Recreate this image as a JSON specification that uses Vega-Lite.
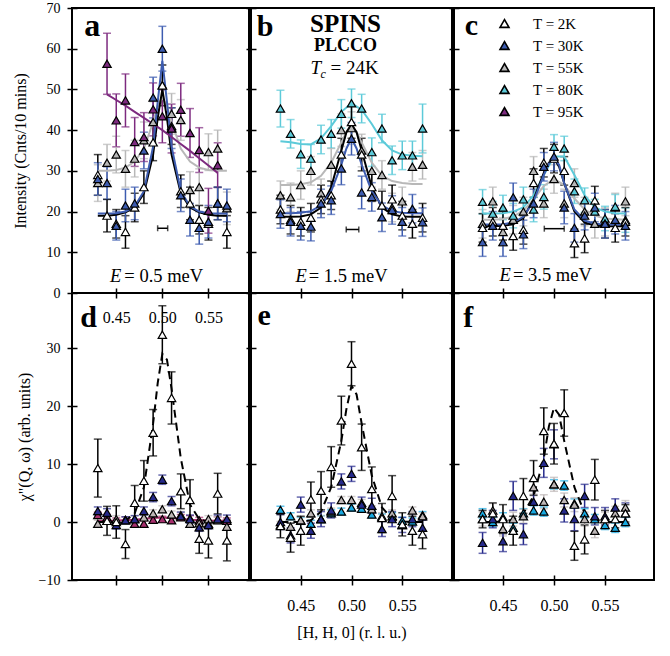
{
"$schema": "https://vega.github.io/schema/vega-lite/v6.json",
"background": "white",
"padding": {"left": 11, "top": 0, "right": 5, "bottom": 5},
"config": {
  "view": {"stroke": "#000", "strokeWidth": 2},
  "axis": {"domain": false, "grid": false, "tickColor": "#000", "tickWidth": 1.5, "labelColor": "#000", "labelFont": "Liberation Serif", "labelFontSize": 14, "titleFont": "Liberation Serif", "titleFontSize": 16, "titleFontWeight": "normal", "titleColor": "#000", "labelFlush": false, "labelOverlap": false},
  "text": {"font": "Liberation Serif", "color": "#000"}
},
"datasets": {
"res": [
{"p":"a","lo":0.4949,"hi":0.5058,"y":15.9},
{"p":"b","lo":0.4948,"hi":0.5072,"y":15.6},
{"p":"c","lo":0.4905,"hi":0.51,"y":15.8}
],
"pts": [
{"p":"a","T":"55K","x":0.43,"y":27,"e":4.5},{"p":"a","T":"55K","x":0.44,"y":32,"e":4.5},{"p":"a","T":"55K","x":0.45,"y":34,"e":4.5},{"p":"a","T":"55K","x":0.46,"y":30.5,"e":4.5},{"p":"a","T":"55K","x":0.47,"y":33,"e":4.5},{"p":"a","T":"55K","x":0.48,"y":37.5,"e":4.5},{"p":"a","T":"55K","x":0.49,"y":42,"e":5},{"p":"a","T":"55K","x":0.5,"y":51,"e":5},{"p":"a","T":"55K","x":0.51,"y":44,"e":5},{"p":"a","T":"55K","x":0.52,"y":42.5,"e":5},{"p":"a","T":"55K","x":0.53,"y":25.3,"e":4.5},{"p":"a","T":"55K","x":0.54,"y":26,"e":4.5},{"p":"a","T":"55K","x":0.55,"y":34.6,"e":4.5},{"p":"a","T":"55K","x":0.56,"y":35.5,"e":4.5},{"p":"a","T":"55K","x":0.57,"y":20.8,"e":4},
{"p":"a","T":"2K","x":0.43,"y":29,"e":5},{"p":"a","T":"2K","x":0.44,"y":19,"e":4},{"p":"a","T":"2K","x":0.45,"y":17,"e":3.5},{"p":"a","T":"2K","x":0.46,"y":15,"e":4},{"p":"a","T":"2K","x":0.47,"y":21,"e":3.5},{"p":"a","T":"2K","x":0.48,"y":26,"e":4},{"p":"a","T":"2K","x":0.49,"y":37,"e":4.5},{"p":"a","T":"2K","x":0.5,"y":51,"e":5},{"p":"a","T":"2K","x":0.51,"y":41,"e":4.5},{"p":"a","T":"2K","x":0.52,"y":25,"e":4},{"p":"a","T":"2K","x":0.53,"y":22,"e":4},{"p":"a","T":"2K","x":0.54,"y":18,"e":3.5},{"p":"a","T":"2K","x":0.55,"y":17,"e":4},{"p":"a","T":"2K","x":0.56,"y":22,"e":4},{"p":"a","T":"2K","x":0.57,"y":15,"e":4},
{"p":"a","T":"30K","x":0.43,"y":28,"e":4},{"p":"a","T":"30K","x":0.44,"y":27,"e":4},{"p":"a","T":"30K","x":0.45,"y":16.5,"e":3.5},{"p":"a","T":"30K","x":0.46,"y":21.5,"e":4},{"p":"a","T":"30K","x":0.47,"y":22,"e":4},{"p":"a","T":"30K","x":0.48,"y":35,"e":4.5},{"p":"a","T":"30K","x":0.49,"y":48,"e":5},{"p":"a","T":"30K","x":0.5,"y":60,"e":5.5},{"p":"a","T":"30K","x":0.51,"y":40.5,"e":5},{"p":"a","T":"30K","x":0.52,"y":24,"e":4},{"p":"a","T":"30K","x":0.53,"y":18,"e":4},{"p":"a","T":"30K","x":0.54,"y":16,"e":4},{"p":"a","T":"30K","x":0.55,"y":17.5,"e":4},{"p":"a","T":"30K","x":0.56,"y":22,"e":4},{"p":"a","T":"30K","x":0.57,"y":21.5,"e":4},
{"p":"a","T":"95K","x":0.44,"y":56.3,"e":7.5},{"p":"a","T":"95K","x":0.45,"y":42.4,"e":6.5},{"p":"a","T":"95K","x":0.46,"y":47.3,"e":6.5},{"p":"a","T":"95K","x":0.47,"y":37.1,"e":6},{"p":"a","T":"95K","x":0.48,"y":38.3,"e":6},{"p":"a","T":"95K","x":0.49,"y":45.1,"e":6.5},{"p":"a","T":"95K","x":0.5,"y":43.4,"e":6.5},{"p":"a","T":"95K","x":0.51,"y":40.4,"e":6},{"p":"a","T":"95K","x":0.52,"y":45,"e":6.5},{"p":"a","T":"95K","x":0.53,"y":39.3,"e":6},{"p":"a","T":"95K","x":0.54,"y":35.1,"e":5.5},{"p":"a","T":"95K","x":0.55,"y":20.2,"e":5.5},{"p":"a","T":"95K","x":0.56,"y":31.4,"e":5.5},
{"p":"b","T":"55K","x":0.43,"y":24,"e":3.5},{"p":"b","T":"55K","x":0.44,"y":23.5,"e":3.5},{"p":"b","T":"55K","x":0.45,"y":26.5,"e":3.5},{"p":"b","T":"55K","x":0.46,"y":30,"e":3.5},{"p":"b","T":"55K","x":0.47,"y":24.5,"e":3.5},{"p":"b","T":"55K","x":0.48,"y":31.5,"e":4},{"p":"b","T":"55K","x":0.49,"y":40,"e":4},{"p":"b","T":"55K","x":0.5,"y":40.5,"e":4},{"p":"b","T":"55K","x":0.51,"y":35,"e":4},{"p":"b","T":"55K","x":0.52,"y":30,"e":4},{"p":"b","T":"55K","x":0.53,"y":29,"e":3.5},{"p":"b","T":"55K","x":0.54,"y":21,"e":3.5},{"p":"b","T":"55K","x":0.55,"y":22.5,"e":3.5},{"p":"b","T":"55K","x":0.56,"y":31,"e":3.5},{"p":"b","T":"55K","x":0.57,"y":31.5,"e":3.5},
{"p":"b","T":"80K","x":0.43,"y":45.3,"e":4.5},{"p":"b","T":"80K","x":0.44,"y":39.1,"e":3.5},{"p":"b","T":"80K","x":0.45,"y":34.1,"e":3.5},{"p":"b","T":"80K","x":0.46,"y":33,"e":3.5},{"p":"b","T":"80K","x":0.47,"y":37.7,"e":3.5},{"p":"b","T":"80K","x":0.48,"y":39.1,"e":3.5},{"p":"b","T":"80K","x":0.49,"y":44,"e":3.5},{"p":"b","T":"80K","x":0.5,"y":46.6,"e":3.5},{"p":"b","T":"80K","x":0.51,"y":45.3,"e":3.5},{"p":"b","T":"80K","x":0.52,"y":34.6,"e":3.5},{"p":"b","T":"80K","x":0.53,"y":40.4,"e":3.5},{"p":"b","T":"80K","x":0.54,"y":32.6,"e":3.5},{"p":"b","T":"80K","x":0.55,"y":33.8,"e":3.5},{"p":"b","T":"80K","x":0.56,"y":33.8,"e":3.5},{"p":"b","T":"80K","x":0.57,"y":40.4,"e":6},
{"p":"b","T":"2K","x":0.43,"y":20.5,"e":3.5},{"p":"b","T":"2K","x":0.44,"y":18,"e":3.5},{"p":"b","T":"2K","x":0.45,"y":17.5,"e":3.5},{"p":"b","T":"2K","x":0.46,"y":18.5,"e":3.5},{"p":"b","T":"2K","x":0.47,"y":23,"e":3.5},{"p":"b","T":"2K","x":0.48,"y":24,"e":3.5},{"p":"b","T":"2K","x":0.49,"y":34,"e":4},{"p":"b","T":"2K","x":0.5,"y":42,"e":4},{"p":"b","T":"2K","x":0.51,"y":34,"e":4},{"p":"b","T":"2K","x":0.52,"y":26,"e":3.5},{"p":"b","T":"2K","x":0.53,"y":21.5,"e":3.5},{"p":"b","T":"2K","x":0.54,"y":23,"e":3.5},{"p":"b","T":"2K","x":0.55,"y":19,"e":3.5},{"p":"b","T":"2K","x":0.56,"y":17,"e":3.5},{"p":"b","T":"2K","x":0.57,"y":18.5,"e":3.5},
{"p":"b","T":"30K","x":0.43,"y":19.4,"e":3.5},{"p":"b","T":"30K","x":0.44,"y":17.5,"e":3.5},{"p":"b","T":"30K","x":0.45,"y":16.5,"e":3.5},{"p":"b","T":"30K","x":0.46,"y":16.3,"e":3.5},{"p":"b","T":"30K","x":0.47,"y":22,"e":3.5},{"p":"b","T":"30K","x":0.48,"y":22.8,"e":3.5},{"p":"b","T":"30K","x":0.49,"y":30.6,"e":4},{"p":"b","T":"30K","x":0.5,"y":37.9,"e":4},{"p":"b","T":"30K","x":0.51,"y":24.7,"e":4},{"p":"b","T":"30K","x":0.52,"y":23.6,"e":3.5},{"p":"b","T":"30K","x":0.53,"y":18.6,"e":3.5},{"p":"b","T":"30K","x":0.54,"y":20.4,"e":3.5},{"p":"b","T":"30K","x":0.55,"y":17.5,"e":3.5},{"p":"b","T":"30K","x":0.56,"y":20.7,"e":3.5},{"p":"b","T":"30K","x":0.57,"y":17.4,"e":3.5},
{"p":"c","T":"55K","x":0.43,"y":17,"e":3.5},{"p":"c","T":"55K","x":0.44,"y":22.5,"e":3.5},{"p":"c","T":"55K","x":0.45,"y":15,"e":3.5},{"p":"c","T":"55K","x":0.46,"y":18,"e":3.5},{"p":"c","T":"55K","x":0.47,"y":20,"e":3.5},{"p":"c","T":"55K","x":0.48,"y":30,"e":3.5},{"p":"c","T":"55K","x":0.49,"y":22,"e":3.5},{"p":"c","T":"55K","x":0.5,"y":28,"e":3.5},{"p":"c","T":"55K","x":0.51,"y":22,"e":3.5},{"p":"c","T":"55K","x":0.52,"y":27,"e":3.5},{"p":"c","T":"55K","x":0.53,"y":20,"e":3.5},{"p":"c","T":"55K","x":0.54,"y":17,"e":3.5},{"p":"c","T":"55K","x":0.55,"y":17.5,"e":3.5},{"p":"c","T":"55K","x":0.56,"y":21,"e":3.5},{"p":"c","T":"55K","x":0.57,"y":22.5,"e":3.5},
{"p":"c","T":"80K","x":0.43,"y":22.4,"e":3},{"p":"c","T":"80K","x":0.44,"y":19.5,"e":3},{"p":"c","T":"80K","x":0.45,"y":21,"e":3},{"p":"c","T":"80K","x":0.46,"y":19,"e":3},{"p":"c","T":"80K","x":0.47,"y":23,"e":3},{"p":"c","T":"80K","x":0.48,"y":20.5,"e":3},{"p":"c","T":"80K","x":0.49,"y":23.6,"e":3},{"p":"c","T":"80K","x":0.5,"y":35.9,"e":3},{"p":"c","T":"80K","x":0.51,"y":35.5,"e":3},{"p":"c","T":"80K","x":0.52,"y":25,"e":3},{"p":"c","T":"80K","x":0.53,"y":22.8,"e":3},{"p":"c","T":"80K","x":0.54,"y":20,"e":3},{"p":"c","T":"80K","x":0.55,"y":18.3,"e":3},{"p":"c","T":"80K","x":0.56,"y":21.2,"e":3},{"p":"c","T":"80K","x":0.57,"y":17.9,"e":3},
{"p":"c","T":"2K","x":0.43,"y":16,"e":3.5},{"p":"c","T":"2K","x":0.44,"y":17.5,"e":3.5},{"p":"c","T":"2K","x":0.45,"y":16.5,"e":3.5},{"p":"c","T":"2K","x":0.46,"y":14,"e":3.5},{"p":"c","T":"2K","x":0.47,"y":15.5,"e":3.5},{"p":"c","T":"2K","x":0.48,"y":27,"e":3.5},{"p":"c","T":"2K","x":0.49,"y":32,"e":3.5},{"p":"c","T":"2K","x":0.5,"y":33,"e":3.5},{"p":"c","T":"2K","x":0.51,"y":30,"e":3.5},{"p":"c","T":"2K","x":0.52,"y":12.2,"e":3.5},{"p":"c","T":"2K","x":0.53,"y":13.4,"e":3.5},{"p":"c","T":"2K","x":0.54,"y":22.7,"e":3.5},{"p":"c","T":"2K","x":0.55,"y":17,"e":3.5},{"p":"c","T":"2K","x":0.56,"y":16,"e":3.5},{"p":"c","T":"2K","x":0.57,"y":17.5,"e":3.5},
{"p":"c","T":"30K","x":0.43,"y":12.5,"e":3.5},{"p":"c","T":"30K","x":0.44,"y":16.5,"e":3.5},{"p":"c","T":"30K","x":0.45,"y":12.5,"e":3.5},{"p":"c","T":"30K","x":0.46,"y":23.5,"e":3.5},{"p":"c","T":"30K","x":0.47,"y":14.4,"e":3.5},{"p":"c","T":"30K","x":0.48,"y":22,"e":3.5},{"p":"c","T":"30K","x":0.49,"y":31,"e":3.5},{"p":"c","T":"30K","x":0.5,"y":33.5,"e":3.5},{"p":"c","T":"30K","x":0.51,"y":21,"e":4},{"p":"c","T":"30K","x":0.52,"y":16,"e":3.5},{"p":"c","T":"30K","x":0.53,"y":19,"e":3.5},{"p":"c","T":"30K","x":0.54,"y":21,"e":3.5},{"p":"c","T":"30K","x":0.55,"y":17,"e":3.5},{"p":"c","T":"30K","x":0.56,"y":18,"e":3.5},{"p":"c","T":"30K","x":0.57,"y":16.5,"e":3.5},
{"p":"d","T":"95K","x":0.43,"y":1.2,"e":0.5},{"p":"d","T":"95K","x":0.44,"y":0.8,"e":0.5},{"p":"d","T":"95K","x":0.45,"y":0.2,"e":0.5},{"p":"d","T":"95K","x":0.46,"y":0.4,"e":0.5},{"p":"d","T":"95K","x":0.47,"y":-0.3,"e":0.5},{"p":"d","T":"95K","x":0.48,"y":-0.3,"e":0.5},{"p":"d","T":"95K","x":0.49,"y":0.4,"e":0.5},{"p":"d","T":"95K","x":0.5,"y":0.5,"e":0.5},{"p":"d","T":"95K","x":0.51,"y":0.3,"e":0.5},{"p":"d","T":"95K","x":0.52,"y":0.8,"e":0.5},{"p":"d","T":"95K","x":0.53,"y":0.6,"e":0.5},{"p":"d","T":"95K","x":0.54,"y":0.3,"e":0.5},{"p":"d","T":"95K","x":0.55,"y":-0.3,"e":0.5},{"p":"d","T":"95K","x":0.56,"y":0.4,"e":0.5},{"p":"d","T":"95K","x":0.57,"y":0.2,"e":0.5},
{"p":"d","T":"55K","x":0.43,"y":-0.3,"e":0.6},{"p":"d","T":"55K","x":0.44,"y":0.2,"e":0.6},{"p":"d","T":"55K","x":0.45,"y":0.5,"e":0.6},{"p":"d","T":"55K","x":0.46,"y":0.3,"e":0.6},{"p":"d","T":"55K","x":0.47,"y":0.5,"e":0.6},{"p":"d","T":"55K","x":0.48,"y":0.8,"e":0.6},{"p":"d","T":"55K","x":0.49,"y":1.5,"e":0.6},{"p":"d","T":"55K","x":0.5,"y":2.2,"e":0.6},{"p":"d","T":"55K","x":0.51,"y":1.3,"e":0.6},{"p":"d","T":"55K","x":0.52,"y":1.2,"e":0.6},{"p":"d","T":"55K","x":0.53,"y":-0.3,"e":0.6},{"p":"d","T":"55K","x":0.54,"y":-0.2,"e":0.6},{"p":"d","T":"55K","x":0.55,"y":0.5,"e":0.6},{"p":"d","T":"55K","x":0.56,"y":0.3,"e":0.6},{"p":"d","T":"55K","x":0.57,"y":-0.8,"e":0.6},
{"p":"d","T":"30K","x":0.43,"y":1.9,"e":0.7},{"p":"d","T":"30K","x":0.44,"y":1.6,"e":0.7},{"p":"d","T":"30K","x":0.45,"y":-0.5,"e":0.7},{"p":"d","T":"30K","x":0.46,"y":0.3,"e":0.6},{"p":"d","T":"30K","x":0.47,"y":0.5,"e":0.6},{"p":"d","T":"30K","x":0.48,"y":1.9,"e":0.7},{"p":"d","T":"30K","x":0.49,"y":4.3,"e":0.8},{"p":"d","T":"30K","x":0.5,"y":7.3,"e":0.8},{"p":"d","T":"30K","x":0.51,"y":3.6,"e":0.8},{"p":"d","T":"30K","x":0.52,"y":1,"e":0.7},{"p":"d","T":"30K","x":0.53,"y":0.5,"e":0.7},{"p":"d","T":"30K","x":0.54,"y":-0.9,"e":0.7},{"p":"d","T":"30K","x":0.55,"y":-0.5,"e":0.7},{"p":"d","T":"30K","x":0.56,"y":0.5,"e":0.7},{"p":"d","T":"30K","x":0.57,"y":0.5,"e":0.7},
{"p":"d","T":"2K","x":0.43,"y":9.3,"e":5},{"p":"d","T":"2K","x":0.44,"y":0.2,"e":2.5},{"p":"d","T":"2K","x":0.45,"y":0,"e":2.8},{"p":"d","T":"2K","x":0.46,"y":-3.8,"e":2.5},{"p":"d","T":"2K","x":0.47,"y":3.3,"e":3},{"p":"d","T":"2K","x":0.48,"y":7.1,"e":3.5},{"p":"d","T":"2K","x":0.49,"y":15.4,"e":4},{"p":"d","T":"2K","x":0.5,"y":32.3,"e":5},{"p":"d","T":"2K","x":0.51,"y":21.4,"e":4.5},{"p":"d","T":"2K","x":0.52,"y":5.3,"e":3},{"p":"d","T":"2K","x":0.53,"y":3.8,"e":3.5},{"p":"d","T":"2K","x":0.54,"y":-2.9,"e":2.5},{"p":"d","T":"2K","x":0.55,"y":-3.2,"e":3},{"p":"d","T":"2K","x":0.56,"y":4.9,"e":3.5},{"p":"d","T":"2K","x":0.57,"y":-3.2,"e":3.5},
{"p":"e","T":"80K","x":0.43,"y":2.1,"e":0.6},{"p":"e","T":"80K","x":0.44,"y":1,"e":0.6},{"p":"e","T":"80K","x":0.45,"y":0.2,"e":0.6},{"p":"e","T":"80K","x":0.46,"y":-0.3,"e":0.6},{"p":"e","T":"80K","x":0.47,"y":0.5,"e":0.6},{"p":"e","T":"80K","x":0.48,"y":1.5,"e":0.6},{"p":"e","T":"80K","x":0.49,"y":1.8,"e":0.6},{"p":"e","T":"80K","x":0.5,"y":2.5,"e":0.6},{"p":"e","T":"80K","x":0.51,"y":2.3,"e":0.6},{"p":"e","T":"80K","x":0.52,"y":1.3,"e":0.6},{"p":"e","T":"80K","x":0.53,"y":0.8,"e":0.6},{"p":"e","T":"80K","x":0.54,"y":1,"e":0.6},{"p":"e","T":"80K","x":0.55,"y":0.2,"e":0.6},{"p":"e","T":"80K","x":0.56,"y":0.1,"e":0.6},{"p":"e","T":"80K","x":0.57,"y":1.2,"e":0.6},
{"p":"e","T":"55K","x":0.43,"y":-0.5,"e":0.6},{"p":"e","T":"55K","x":0.44,"y":-0.8,"e":0.6},{"p":"e","T":"55K","x":0.45,"y":0.3,"e":0.6},{"p":"e","T":"55K","x":0.46,"y":1.5,"e":0.6},{"p":"e","T":"55K","x":0.47,"y":0.5,"e":0.6},{"p":"e","T":"55K","x":0.48,"y":1.8,"e":0.6},{"p":"e","T":"55K","x":0.49,"y":3.8,"e":0.6},{"p":"e","T":"55K","x":0.5,"y":3.8,"e":0.6},{"p":"e","T":"55K","x":0.51,"y":3.3,"e":0.6},{"p":"e","T":"55K","x":0.52,"y":2.2,"e":0.6},{"p":"e","T":"55K","x":0.53,"y":1,"e":0.6},{"p":"e","T":"55K","x":0.54,"y":1.5,"e":0.6},{"p":"e","T":"55K","x":0.55,"y":-0.5,"e":0.6},{"p":"e","T":"55K","x":0.56,"y":2,"e":0.6},{"p":"e","T":"55K","x":0.57,"y":1,"e":0.6},
{"p":"e","T":"30K","x":0.43,"y":0,"e":1.3},{"p":"e","T":"30K","x":0.44,"y":-2.3,"e":1.3},{"p":"e","T":"30K","x":0.45,"y":3,"e":1.3},{"p":"e","T":"30K","x":0.46,"y":-1.5,"e":1.3},{"p":"e","T":"30K","x":0.47,"y":0.5,"e":1.3},{"p":"e","T":"30K","x":0.48,"y":2,"e":1.3},{"p":"e","T":"30K","x":0.49,"y":7,"e":1.3},{"p":"e","T":"30K","x":0.5,"y":8.3,"e":1.3},{"p":"e","T":"30K","x":0.51,"y":3,"e":1.3},{"p":"e","T":"30K","x":0.52,"y":2.8,"e":1.3},{"p":"e","T":"30K","x":0.53,"y":-1.2,"e":1.3},{"p":"e","T":"30K","x":0.54,"y":0.5,"e":1.3},{"p":"e","T":"30K","x":0.55,"y":-0.5,"e":1.3},{"p":"e","T":"30K","x":0.56,"y":0.5,"e":1.3},{"p":"e","T":"30K","x":0.57,"y":-1,"e":1.3},
{"p":"e","T":"2K","x":0.43,"y":-0.7,"e":2},{"p":"e","T":"2K","x":0.44,"y":-2.7,"e":2.5},{"p":"e","T":"2K","x":0.45,"y":-1.5,"e":2.5},{"p":"e","T":"2K","x":0.46,"y":3.9,"e":3},{"p":"e","T":"2K","x":0.47,"y":5.4,"e":3.3},{"p":"e","T":"2K","x":0.48,"y":9.5,"e":3.5},{"p":"e","T":"2K","x":0.49,"y":17.5,"e":4.2},{"p":"e","T":"2K","x":0.5,"y":27.3,"e":3.8},{"p":"e","T":"2K","x":0.51,"y":12.9,"e":4},{"p":"e","T":"2K","x":0.52,"y":5.7,"e":3.8},{"p":"e","T":"2K","x":0.53,"y":0.7,"e":2.5},{"p":"e","T":"2K","x":0.54,"y":4.5,"e":3.5},{"p":"e","T":"2K","x":0.55,"y":-0.4,"e":2},{"p":"e","T":"2K","x":0.56,"y":-1.5,"e":2.5},{"p":"e","T":"2K","x":0.57,"y":-2.1,"e":2.5},
{"p":"f","T":"80K","x":0.43,"y":1.5,"e":0.8},{"p":"f","T":"80K","x":0.44,"y":0,"e":0.8},{"p":"f","T":"80K","x":0.45,"y":0.8,"e":0.8},{"p":"f","T":"80K","x":0.46,"y":-1,"e":0.8},{"p":"f","T":"80K","x":0.47,"y":1.5,"e":0.8},{"p":"f","T":"80K","x":0.48,"y":2,"e":0.8},{"p":"f","T":"80K","x":0.49,"y":1.8,"e":0.8},{"p":"f","T":"80K","x":0.5,"y":6.5,"e":0.8},{"p":"f","T":"80K","x":0.51,"y":6.3,"e":0.8},{"p":"f","T":"80K","x":0.52,"y":3.2,"e":0.8},{"p":"f","T":"80K","x":0.53,"y":1.5,"e":0.8},{"p":"f","T":"80K","x":0.54,"y":0.5,"e":0.8},{"p":"f","T":"80K","x":0.55,"y":-0.5,"e":0.8},{"p":"f","T":"80K","x":0.56,"y":-1,"e":0.8},{"p":"f","T":"80K","x":0.57,"y":0,"e":0.8},
{"p":"f","T":"55K","x":0.43,"y":0.5,"e":1.2},{"p":"f","T":"55K","x":0.44,"y":2,"e":1.2},{"p":"f","T":"55K","x":0.45,"y":-1.2,"e":1.2},{"p":"f","T":"55K","x":0.46,"y":0.5,"e":1.2},{"p":"f","T":"55K","x":0.47,"y":1,"e":1.2},{"p":"f","T":"55K","x":0.48,"y":6,"e":1.2},{"p":"f","T":"55K","x":0.49,"y":3.5,"e":1.2},{"p":"f","T":"55K","x":0.5,"y":6.5,"e":1.2},{"p":"f","T":"55K","x":0.51,"y":3.8,"e":1.2},{"p":"f","T":"55K","x":0.52,"y":3,"e":1.2},{"p":"f","T":"55K","x":0.53,"y":0.5,"e":1.2},{"p":"f","T":"55K","x":0.54,"y":-1.5,"e":1.2},{"p":"f","T":"55K","x":0.55,"y":0.5,"e":1.2},{"p":"f","T":"55K","x":0.56,"y":1.5,"e":1.2},{"p":"f","T":"55K","x":0.57,"y":2.5,"e":1.2},
{"p":"f","T":"30K","x":0.43,"y":-3.6,"e":1.8},{"p":"f","T":"30K","x":0.44,"y":0.5,"e":1.5},{"p":"f","T":"30K","x":0.45,"y":-3.3,"e":1.8},{"p":"f","T":"30K","x":0.46,"y":4.5,"e":2.5},{"p":"f","T":"30K","x":0.47,"y":-2.1,"e":1.8},{"p":"f","T":"30K","x":0.48,"y":3.5,"e":2},{"p":"f","T":"30K","x":0.49,"y":10.2,"e":2.5},{"p":"f","T":"30K","x":0.5,"y":13.4,"e":2.5},{"p":"f","T":"30K","x":0.51,"y":2,"e":2},{"p":"f","T":"30K","x":0.52,"y":0.5,"e":2},{"p":"f","T":"30K","x":0.53,"y":4.5,"e":2},{"p":"f","T":"30K","x":0.54,"y":1,"e":1.5},{"p":"f","T":"30K","x":0.55,"y":1,"e":1.5},{"p":"f","T":"30K","x":0.56,"y":2.5,"e":1.5},{"p":"f","T":"30K","x":0.57,"y":1.5,"e":1.8},
{"p":"f","T":"2K","x":0.43,"y":0.5,"e":1.5},{"p":"f","T":"2K","x":0.44,"y":1.5,"e":1.8},{"p":"f","T":"2K","x":0.45,"y":0.5,"e":2.5},{"p":"f","T":"2K","x":0.46,"y":-1.5,"e":2.5},{"p":"f","T":"2K","x":0.47,"y":4.5,"e":3},{"p":"f","T":"2K","x":0.48,"y":7.6,"e":3},{"p":"f","T":"2K","x":0.49,"y":15.7,"e":4},{"p":"f","T":"2K","x":0.5,"y":13.5,"e":3.5},{"p":"f","T":"2K","x":0.51,"y":18.8,"e":4},{"p":"f","T":"2K","x":0.52,"y":-4.1,"e":2.5},{"p":"f","T":"2K","x":0.53,"y":-3,"e":2.5},{"p":"f","T":"2K","x":0.54,"y":7.3,"e":3.5},{"p":"f","T":"2K","x":0.55,"y":0.5,"e":1.5},{"p":"f","T":"2K","x":0.56,"y":0.5,"e":1.5},{"p":"f","T":"2K","x":0.57,"y":1.5,"e":1.5}
],
"fits": [
{"p":"a","T":"55K","x":0.43,"y":30},{"p":"a","T":"55K","x":0.44,"y":30},{"p":"a","T":"55K","x":0.45,"y":30.2},{"p":"a","T":"55K","x":0.46,"y":30.8},{"p":"a","T":"55K","x":0.47,"y":32.3},{"p":"a","T":"55K","x":0.48,"y":35.5},{"p":"a","T":"55K","x":0.49,"y":42},{"p":"a","T":"55K","x":0.495,"y":46},{"p":"a","T":"55K","x":0.5,"y":48},{"p":"a","T":"55K","x":0.505,"y":46},{"p":"a","T":"55K","x":0.51,"y":42},{"p":"a","T":"55K","x":0.52,"y":35.5},{"p":"a","T":"55K","x":0.53,"y":32.3},{"p":"a","T":"55K","x":0.54,"y":30.8},{"p":"a","T":"55K","x":0.55,"y":30.2},{"p":"a","T":"55K","x":0.56,"y":30},{"p":"a","T":"55K","x":0.57,"y":30},
{"p":"a","T":"2K","x":0.43,"y":19},{"p":"a","T":"2K","x":0.44,"y":19},{"p":"a","T":"2K","x":0.45,"y":19.2},{"p":"a","T":"2K","x":0.46,"y":19.8},{"p":"a","T":"2K","x":0.47,"y":21},{"p":"a","T":"2K","x":0.48,"y":24.5},{"p":"a","T":"2K","x":0.49,"y":34},{"p":"a","T":"2K","x":0.495,"y":43},{"p":"a","T":"2K","x":0.5,"y":50},{"p":"a","T":"2K","x":0.505,"y":43},{"p":"a","T":"2K","x":0.51,"y":34},{"p":"a","T":"2K","x":0.52,"y":24.5},{"p":"a","T":"2K","x":0.53,"y":21},{"p":"a","T":"2K","x":0.54,"y":19.8},{"p":"a","T":"2K","x":0.55,"y":19.2},{"p":"a","T":"2K","x":0.56,"y":19},{"p":"a","T":"2K","x":0.57,"y":19},
{"p":"a","T":"30K","x":0.43,"y":19.5},{"p":"a","T":"30K","x":0.44,"y":19.5},{"p":"a","T":"30K","x":0.45,"y":19.6},{"p":"a","T":"30K","x":0.46,"y":20},{"p":"a","T":"30K","x":0.47,"y":21.3},{"p":"a","T":"30K","x":0.48,"y":25},{"p":"a","T":"30K","x":0.49,"y":36},{"p":"a","T":"30K","x":0.495,"y":47},{"p":"a","T":"30K","x":0.5,"y":57},{"p":"a","T":"30K","x":0.505,"y":47},{"p":"a","T":"30K","x":0.51,"y":36},{"p":"a","T":"30K","x":0.52,"y":25},{"p":"a","T":"30K","x":0.53,"y":21.3},{"p":"a","T":"30K","x":0.54,"y":20},{"p":"a","T":"30K","x":0.55,"y":19.6},{"p":"a","T":"30K","x":0.56,"y":19.5},{"p":"a","T":"30K","x":0.57,"y":19.5},
{"p":"a","T":"95K","x":0.44,"y":48.8},{"p":"a","T":"95K","x":0.45,"y":47.4},{"p":"a","T":"95K","x":0.46,"y":46},{"p":"a","T":"95K","x":0.47,"y":44.5},{"p":"a","T":"95K","x":0.48,"y":43},{"p":"a","T":"95K","x":0.49,"y":41.5},{"p":"a","T":"95K","x":0.5,"y":40},{"p":"a","T":"95K","x":0.51,"y":38.3},{"p":"a","T":"95K","x":0.52,"y":36.6},{"p":"a","T":"95K","x":0.53,"y":34.9},{"p":"a","T":"95K","x":0.54,"y":33.1},{"p":"a","T":"95K","x":0.55,"y":31.3},{"p":"a","T":"95K","x":0.56,"y":29.5},
{"p":"b","T":"55K","x":0.43,"y":26.5},{"p":"b","T":"55K","x":0.44,"y":26.5},{"p":"b","T":"55K","x":0.45,"y":26.7},{"p":"b","T":"55K","x":0.46,"y":27.2},{"p":"b","T":"55K","x":0.47,"y":28.8},{"p":"b","T":"55K","x":0.48,"y":32},{"p":"b","T":"55K","x":0.49,"y":37},{"p":"b","T":"55K","x":0.495,"y":39.5},{"p":"b","T":"55K","x":0.5,"y":40.5},{"p":"b","T":"55K","x":0.505,"y":39.5},{"p":"b","T":"55K","x":0.51,"y":37},{"p":"b","T":"55K","x":0.52,"y":32},{"p":"b","T":"55K","x":0.53,"y":28.8},{"p":"b","T":"55K","x":0.54,"y":27.5},{"p":"b","T":"55K","x":0.55,"y":27},{"p":"b","T":"55K","x":0.56,"y":26.8},{"p":"b","T":"55K","x":0.57,"y":26.8},
{"p":"b","T":"80K","x":0.43,"y":37.3},{"p":"b","T":"80K","x":0.44,"y":37},{"p":"b","T":"80K","x":0.45,"y":36.6},{"p":"b","T":"80K","x":0.46,"y":36.5},{"p":"b","T":"80K","x":0.47,"y":38},{"p":"b","T":"80K","x":0.48,"y":41},{"p":"b","T":"80K","x":0.49,"y":44.5},{"p":"b","T":"80K","x":0.5,"y":46.6},{"p":"b","T":"80K","x":0.51,"y":45},{"p":"b","T":"80K","x":0.52,"y":41.5},{"p":"b","T":"80K","x":0.53,"y":37.5},{"p":"b","T":"80K","x":0.54,"y":35},{"p":"b","T":"80K","x":0.55,"y":34},{"p":"b","T":"80K","x":0.56,"y":33.7},{"p":"b","T":"80K","x":0.57,"y":33.6},
{"p":"b","T":"2K","x":0.43,"y":18.7},{"p":"b","T":"2K","x":0.44,"y":18.7},{"p":"b","T":"2K","x":0.45,"y":18.8},{"p":"b","T":"2K","x":0.46,"y":19.3},{"p":"b","T":"2K","x":0.47,"y":21},{"p":"b","T":"2K","x":0.48,"y":26},{"p":"b","T":"2K","x":0.49,"y":35},{"p":"b","T":"2K","x":0.495,"y":39.5},{"p":"b","T":"2K","x":0.5,"y":41.5},{"p":"b","T":"2K","x":0.505,"y":39.5},{"p":"b","T":"2K","x":0.51,"y":35},{"p":"b","T":"2K","x":0.52,"y":26},{"p":"b","T":"2K","x":0.53,"y":21},{"p":"b","T":"2K","x":0.54,"y":19.3},{"p":"b","T":"2K","x":0.55,"y":18.8},{"p":"b","T":"2K","x":0.56,"y":18.7},{"p":"b","T":"2K","x":0.57,"y":18.7},
{"p":"b","T":"30K","x":0.43,"y":19.6},{"p":"b","T":"30K","x":0.44,"y":19.6},{"p":"b","T":"30K","x":0.45,"y":19.7},{"p":"b","T":"30K","x":0.46,"y":20.1},{"p":"b","T":"30K","x":0.47,"y":21.5},{"p":"b","T":"30K","x":0.48,"y":25},{"p":"b","T":"30K","x":0.49,"y":31.5},{"p":"b","T":"30K","x":0.495,"y":35.5},{"p":"b","T":"30K","x":0.5,"y":38},{"p":"b","T":"30K","x":0.505,"y":35.5},{"p":"b","T":"30K","x":0.51,"y":31.5},{"p":"b","T":"30K","x":0.52,"y":25},{"p":"b","T":"30K","x":0.53,"y":21.5},{"p":"b","T":"30K","x":0.54,"y":20.1},{"p":"b","T":"30K","x":0.55,"y":19.7},{"p":"b","T":"30K","x":0.56,"y":19.6},{"p":"b","T":"30K","x":0.57,"y":19.6},
{"p":"c","T":"55K","x":0.43,"y":18},{"p":"c","T":"55K","x":0.44,"y":18},{"p":"c","T":"55K","x":0.45,"y":18.2},{"p":"c","T":"55K","x":0.46,"y":18.8},{"p":"c","T":"55K","x":0.47,"y":20.2},{"p":"c","T":"55K","x":0.48,"y":23},{"p":"c","T":"55K","x":0.49,"y":26.3},{"p":"c","T":"55K","x":0.5,"y":28},{"p":"c","T":"55K","x":0.51,"y":26.5},{"p":"c","T":"55K","x":0.52,"y":23.2},{"p":"c","T":"55K","x":0.53,"y":20.5},{"p":"c","T":"55K","x":0.54,"y":19},{"p":"c","T":"55K","x":0.55,"y":18.3},{"p":"c","T":"55K","x":0.56,"y":18.1},{"p":"c","T":"55K","x":0.57,"y":18},
{"p":"c","T":"80K","x":0.43,"y":19.5},{"p":"c","T":"80K","x":0.44,"y":19.5},{"p":"c","T":"80K","x":0.45,"y":19.6},{"p":"c","T":"80K","x":0.46,"y":20},{"p":"c","T":"80K","x":0.47,"y":21},{"p":"c","T":"80K","x":0.48,"y":24},{"p":"c","T":"80K","x":0.49,"y":29},{"p":"c","T":"80K","x":0.5,"y":33.5},{"p":"c","T":"80K","x":0.51,"y":33.5},{"p":"c","T":"80K","x":0.52,"y":29},{"p":"c","T":"80K","x":0.53,"y":24},{"p":"c","T":"80K","x":0.54,"y":21},{"p":"c","T":"80K","x":0.55,"y":20},{"p":"c","T":"80K","x":0.56,"y":19.6},{"p":"c","T":"80K","x":0.57,"y":19.5},
{"p":"c","T":"2K","x":0.43,"y":16.4},{"p":"c","T":"2K","x":0.44,"y":16.4},{"p":"c","T":"2K","x":0.45,"y":16.5},{"p":"c","T":"2K","x":0.46,"y":16.9},{"p":"c","T":"2K","x":0.47,"y":18.5},{"p":"c","T":"2K","x":0.48,"y":23},{"p":"c","T":"2K","x":0.49,"y":29.5},{"p":"c","T":"2K","x":0.495,"y":32},{"p":"c","T":"2K","x":0.5,"y":33},{"p":"c","T":"2K","x":0.505,"y":31},{"p":"c","T":"2K","x":0.51,"y":27},{"p":"c","T":"2K","x":0.52,"y":20},{"p":"c","T":"2K","x":0.53,"y":17.3},{"p":"c","T":"2K","x":0.54,"y":16.6},{"p":"c","T":"2K","x":0.55,"y":16.4},{"p":"c","T":"2K","x":0.56,"y":16.4},{"p":"c","T":"2K","x":0.57,"y":16.4},
{"p":"c","T":"30K","x":0.43,"y":16.8},{"p":"c","T":"30K","x":0.44,"y":16.8},{"p":"c","T":"30K","x":0.45,"y":16.9},{"p":"c","T":"30K","x":0.46,"y":17.3},{"p":"c","T":"30K","x":0.47,"y":18.7},{"p":"c","T":"30K","x":0.48,"y":22.5},{"p":"c","T":"30K","x":0.49,"y":29},{"p":"c","T":"30K","x":0.495,"y":31.8},{"p":"c","T":"30K","x":0.5,"y":33},{"p":"c","T":"30K","x":0.505,"y":31.5},{"p":"c","T":"30K","x":0.51,"y":27},{"p":"c","T":"30K","x":0.52,"y":20.5},{"p":"c","T":"30K","x":0.53,"y":17.8},{"p":"c","T":"30K","x":0.54,"y":17},{"p":"c","T":"30K","x":0.55,"y":16.8},{"p":"c","T":"30K","x":0.56,"y":16.8},{"p":"c","T":"30K","x":0.57,"y":16.8},
{"p":"d","T":"95K","x":0.43,"y":0.2},{"p":"d","T":"95K","x":0.45,"y":0.25},{"p":"d","T":"95K","x":0.47,"y":0.4},{"p":"d","T":"95K","x":0.49,"y":0.7},{"p":"d","T":"95K","x":0.5,"y":0.8},{"p":"d","T":"95K","x":0.51,"y":0.7},{"p":"d","T":"95K","x":0.53,"y":0.4},{"p":"d","T":"95K","x":0.55,"y":0.25},{"p":"d","T":"95K","x":0.57,"y":0.2},
{"p":"d","T":"2K","x":0.43,"y":0},{"p":"d","T":"2K","x":0.44,"y":0},{"p":"d","T":"2K","x":0.45,"y":0},{"p":"d","T":"2K","x":0.46,"y":0.2},{"p":"d","T":"2K","x":0.47,"y":1.5},{"p":"d","T":"2K","x":0.48,"y":6},{"p":"d","T":"2K","x":0.49,"y":17},{"p":"d","T":"2K","x":0.495,"y":24},{"p":"d","T":"2K","x":0.5,"y":29},{"p":"d","T":"2K","x":0.505,"y":28},{"p":"d","T":"2K","x":0.51,"y":23},{"p":"d","T":"2K","x":0.52,"y":11},{"p":"d","T":"2K","x":0.53,"y":3},{"p":"d","T":"2K","x":0.54,"y":0.5},{"p":"d","T":"2K","x":0.55,"y":0},{"p":"d","T":"2K","x":0.56,"y":0},{"p":"d","T":"2K","x":0.57,"y":0},
{"p":"e","T":"2K","x":0.43,"y":0},{"p":"e","T":"2K","x":0.44,"y":0},{"p":"e","T":"2K","x":0.45,"y":0},{"p":"e","T":"2K","x":0.46,"y":0.3},{"p":"e","T":"2K","x":0.47,"y":1.8},{"p":"e","T":"2K","x":0.48,"y":6},{"p":"e","T":"2K","x":0.49,"y":14},{"p":"e","T":"2K","x":0.495,"y":19.5},{"p":"e","T":"2K","x":0.5,"y":23.5},{"p":"e","T":"2K","x":0.505,"y":22},{"p":"e","T":"2K","x":0.51,"y":17},{"p":"e","T":"2K","x":0.52,"y":8},{"p":"e","T":"2K","x":0.53,"y":2.5},{"p":"e","T":"2K","x":0.54,"y":0.6},{"p":"e","T":"2K","x":0.55,"y":0.1},{"p":"e","T":"2K","x":0.56,"y":0},{"p":"e","T":"2K","x":0.57,"y":0},
{"p":"f","T":"2K","x":0.43,"y":0},{"p":"f","T":"2K","x":0.44,"y":0},{"p":"f","T":"2K","x":0.45,"y":0.1},{"p":"f","T":"2K","x":0.46,"y":0.4},{"p":"f","T":"2K","x":0.47,"y":1.5},{"p":"f","T":"2K","x":0.48,"y":4.5},{"p":"f","T":"2K","x":0.49,"y":11},{"p":"f","T":"2K","x":0.495,"y":16.5},{"p":"f","T":"2K","x":0.5,"y":19.7},{"p":"f","T":"2K","x":0.505,"y":18.5},{"p":"f","T":"2K","x":0.51,"y":14},{"p":"f","T":"2K","x":0.52,"y":6},{"p":"f","T":"2K","x":0.53,"y":1.5},{"p":"f","T":"2K","x":0.54,"y":0.4},{"p":"f","T":"2K","x":0.55,"y":0},{"p":"f","T":"2K","x":0.56,"y":0},{"p":"f","T":"2K","x":0.57,"y":0}
]
},
"columns": 3,
"spacing": {"row": 0, "column": 2},
"bounds": "flush",
"align": "each",
"resolve": {"scale": {"fill": "independent", "color": "independent", "strokeWidth": "independent", "x": "independent", "y": "independent"}},
"concat": [
{
"width": 177, "height": 285,
"layer": [
{
"encoding": {
  "x": {"field": "x", "type": "quantitative", "scale": {"domain": [0.402, 0.594], "nice": false, "zero": false}, "axis": {"values": [0.45, 0.5, 0.55], "format": ".2f", "offset": -5, "tickSize": 10, "labelPadding": 11, "labelFontSize": 16, "title": null}},
  "y": {"field": "y", "type": "quantitative", "scale": {"domain": [0, 70], "nice": false, "zero": false}, "axis": {"values": [0, 10, 20, 30, 40, 50, 60, 70], "offset": -5, "tickSize": 10, "labelPadding": 7, "labelFontSize": 14, "title": "Intensity (Cnts/10 mins)", "minExtent": 45, "maxExtent": 45, "titlePadding": 4}}
},
"layer": [
  {"data": {"name": "pts"}, "transform": [{"filter": "datum.p == 'a'"}], "mark": {"type": "errorbar", "ticks": {"size": 8, "thickness": 1.5}, "rule": {"strokeWidth": 1.5}}, "encoding": {"yError": {"field": "e"}, "color": {"field": "T", "type": "nominal", "scale": {"domain": ["95K", "80K", "55K", "30K", "2K"], "range": ["#7d2a7f", "#5ccad9", "#b8b8b8", "#3d5cb0", "#000000"]}, "legend": null}}},
  {"data": {"name": "res"}, "transform": [{"filter": "datum.p == 'a'"}], "mark": {"type": "errorbar", "color": "#000", "ticks": {"size": 6, "thickness": 1.5}, "rule": {"strokeWidth": 1.5}}, "encoding": {"x": {"field": "lo", "type": "quantitative", "scale": {"domain": [0.402, 0.594], "nice": false, "zero": false}}, "x2": {"field": "hi"}, "y": {"field": "y", "type": "quantitative", "scale": {"domain": [0, 70], "nice": false, "zero": false}}}},
  {"data": {"name": "fits"}, "transform": [{"filter": "datum.p == 'a'"}], "mark": {"type": "line", "strokeWidth": 2}, "encoding": {"color": {"field": "T", "type": "nominal", "legend": null}, "order": {"field": "x", "type": "quantitative"}}},
  {"data": {"name": "pts"}, "transform": [{"filter": "datum.p == 'a'"}], "mark": {"type": "point", "shape": "triangle-up", "filled": true, "stroke": "#000", "size": 70, "opacity": 1}, "encoding": {"fill": {"field": "T", "type": "nominal", "scale": {"domain": ["2K", "30K", "55K", "80K", "95K"], "range": ["#ffffff", "#3d5cb0", "#b8b8b8", "#5ccad9", "#7d2a7f"]}, "legend": null}, "strokeWidth": {"field": "T", "type": "nominal", "scale": {"domain": ["95K", "80K", "55K", "2K", "30K"], "range": [1.2, 1.2, 1.2, 2.4, 1.2]}, "legend": null}}}
]
},
  {"data": {"values": [{}]}, "mark": {"type": "text", "text": "a", "fontSize": 32, "fontWeight": "bold", "align": "center", "baseline": "alphabetic"}, "encoding": {"x": {"datum": 0.424, "type": "quantitative", "scale": {"domain": [0.402, 0.594], "nice": false, "zero": false}}, "y": {"datum": 63.2, "type": "quantitative", "scale": {"domain": [0, 70], "nice": false, "zero": false}}}},
  {"data": {"values": [{}]}, "mark": {"type": "text", "text": "E", "fontSize": 18.5, "fontStyle": "italic", "align": "left", "baseline": "alphabetic"}, "encoding": {"x": {"datum": 0.4433, "type": "quantitative", "scale": {"domain": [0.402, 0.594], "nice": false, "zero": false}}, "y": {"datum": 2.8, "type": "quantitative", "scale": {"domain": [0, 70], "nice": false, "zero": false}}}},
  {"data": {"values": [{}]}, "mark": {"type": "text", "text": "= 0.5 meV", "fontSize": 18.5, "align": "left", "baseline": "alphabetic"}, "encoding": {"x": {"datum": 0.4588, "type": "quantitative", "scale": {"domain": [0.402, 0.594], "nice": false, "zero": false}}, "y": {"datum": 2.8, "type": "quantitative", "scale": {"domain": [0, 70], "nice": false, "zero": false}}}}
]
},
{
"width": 201, "height": 285,
"layer": [
{
"encoding": {
  "x": {"field": "x", "type": "quantitative", "scale": {"domain": [0.401, 0.599], "nice": false, "zero": false}, "axis": {"values": [0.45, 0.5, 0.55], "offset": -5, "tickSize": 10, "labels": false, "title": null}},
  "y": {"field": "y", "type": "quantitative", "scale": {"domain": [0, 70], "nice": false, "zero": false}, "axis": {"values": [0, 10, 20, 30, 40, 50, 60, 70], "offset": -5, "tickSize": 10, "labels": false, "title": null}}
},
"layer": [
  {"data": {"name": "pts"}, "transform": [{"filter": "datum.p == 'b'"}], "mark": {"type": "errorbar", "ticks": {"size": 8, "thickness": 1.5}, "rule": {"strokeWidth": 1.5}}, "encoding": {"yError": {"field": "e"}, "color": {"field": "T", "type": "nominal", "scale": {"domain": ["95K", "80K", "55K", "30K", "2K"], "range": ["#7d2a7f", "#5ccad9", "#b8b8b8", "#3d5cb0", "#000000"]}, "legend": null}}},
  {"data": {"name": "res"}, "transform": [{"filter": "datum.p == 'b'"}], "mark": {"type": "errorbar", "color": "#000", "ticks": {"size": 6, "thickness": 1.5}, "rule": {"strokeWidth": 1.5}}, "encoding": {"x": {"field": "lo", "type": "quantitative", "scale": {"domain": [0.401, 0.599], "nice": false, "zero": false}}, "x2": {"field": "hi"}, "y": {"field": "y", "type": "quantitative", "scale": {"domain": [0, 70], "nice": false, "zero": false}}}},
  {"data": {"name": "fits"}, "transform": [{"filter": "datum.p == 'b'"}], "mark": {"type": "line", "strokeWidth": 2}, "encoding": {"color": {"field": "T", "type": "nominal", "legend": null}, "order": {"field": "x", "type": "quantitative"}}},
  {"data": {"name": "pts"}, "transform": [{"filter": "datum.p == 'b'"}], "mark": {"type": "point", "shape": "triangle-up", "filled": true, "stroke": "#000", "size": 70, "opacity": 1}, "encoding": {"fill": {"field": "T", "type": "nominal", "scale": {"domain": ["2K", "30K", "55K", "80K", "95K"], "range": ["#ffffff", "#3d5cb0", "#b8b8b8", "#5ccad9", "#7d2a7f"]}, "legend": null}, "strokeWidth": {"field": "T", "type": "nominal", "scale": {"domain": ["95K", "80K", "55K", "2K", "30K"], "range": [1.2, 1.2, 1.2, 2.4, 1.2]}, "legend": null}}}
]
},
  {"data": {"values": [{}]}, "mark": {"type": "text", "text": "b", "fontSize": 30, "fontWeight": "bold", "align": "center", "baseline": "alphabetic"}, "encoding": {"x": {"datum": 0.415, "type": "quantitative", "scale": {"domain": [0.401, 0.599], "nice": false, "zero": false}}, "y": {"datum": 63.2, "type": "quantitative", "scale": {"domain": [0, 70], "nice": false, "zero": false}}}},
  {"data": {"values": [{}]}, "mark": {"type": "text", "text": "SPINS", "fontSize": 25, "fontWeight": "bold", "align": "center", "baseline": "alphabetic"}, "encoding": {"x": {"datum": 0.494, "type": "quantitative", "scale": {"domain": [0.401, 0.599], "nice": false, "zero": false}}, "y": {"datum": 64.1, "type": "quantitative", "scale": {"domain": [0, 70], "nice": false, "zero": false}}}},
  {"data": {"values": [{}]}, "mark": {"type": "text", "text": "PLCCO", "fontSize": 18, "fontWeight": "bold", "align": "center", "baseline": "alphabetic"}, "encoding": {"x": {"datum": 0.494, "type": "quantitative", "scale": {"domain": [0.401, 0.599], "nice": false, "zero": false}}, "y": {"datum": 59.4, "type": "quantitative", "scale": {"domain": [0, 70], "nice": false, "zero": false}}}},
  {"data": {"values": [{}]}, "mark": {"type": "text", "text": "T", "fontSize": 19, "fontStyle": "italic", "align": "left", "baseline": "alphabetic"}, "encoding": {"x": {"datum": 0.4596, "type": "quantitative", "scale": {"domain": [0.401, 0.599], "nice": false, "zero": false}}, "y": {"datum": 53.7, "type": "quantitative", "scale": {"domain": [0, 70], "nice": false, "zero": false}}}},
  {"data": {"values": [{}]}, "mark": {"type": "text", "text": "c", "fontSize": 12, "fontStyle": "italic", "align": "left", "baseline": "alphabetic"}, "encoding": {"x": {"datum": 0.4695, "type": "quantitative", "scale": {"domain": [0.401, 0.599], "nice": false, "zero": false}}, "y": {"datum": 52.9, "type": "quantitative", "scale": {"domain": [0, 70], "nice": false, "zero": false}}}},
  {"data": {"values": [{}]}, "mark": {"type": "text", "text": "= 24K", "fontSize": 19, "align": "left", "baseline": "alphabetic"}, "encoding": {"x": {"datum": 0.4793, "type": "quantitative", "scale": {"domain": [0.401, 0.599], "nice": false, "zero": false}}, "y": {"datum": 53.7, "type": "quantitative", "scale": {"domain": [0, 70], "nice": false, "zero": false}}}},
  {"data": {"values": [{}]}, "mark": {"type": "text", "text": "E", "fontSize": 18.5, "fontStyle": "italic", "align": "left", "baseline": "alphabetic"}, "encoding": {"x": {"datum": 0.4448, "type": "quantitative", "scale": {"domain": [0.401, 0.599], "nice": false, "zero": false}}, "y": {"datum": 2.8, "type": "quantitative", "scale": {"domain": [0, 70], "nice": false, "zero": false}}}},
  {"data": {"values": [{}]}, "mark": {"type": "text", "text": "= 1.5 meV", "fontSize": 18.5, "align": "left", "baseline": "alphabetic"}, "encoding": {"x": {"datum": 0.4579, "type": "quantitative", "scale": {"domain": [0.401, 0.599], "nice": false, "zero": false}}, "y": {"datum": 2.8, "type": "quantitative", "scale": {"domain": [0, 70], "nice": false, "zero": false}}}}
]
},
{
"width": 200, "height": 285,
"layer": [
{
"encoding": {
  "x": {"field": "x", "type": "quantitative", "scale": {"domain": [0.402, 0.598], "nice": false, "zero": false}, "axis": {"values": [0.45, 0.5, 0.55], "offset": -5, "tickSize": 10, "labels": false, "title": null}},
  "y": {"field": "y", "type": "quantitative", "scale": {"domain": [0, 70], "nice": false, "zero": false}, "axis": {"values": [0, 10, 20, 30, 40, 50, 60, 70], "offset": -5, "tickSize": 10, "labels": false, "title": null}}
},
"layer": [
  {"data": {"name": "pts"}, "transform": [{"filter": "datum.p == 'c'"}], "mark": {"type": "errorbar", "ticks": {"size": 8, "thickness": 1.5}, "rule": {"strokeWidth": 1.5}}, "encoding": {"yError": {"field": "e"}, "color": {"field": "T", "type": "nominal", "scale": {"domain": ["95K", "80K", "55K", "30K", "2K"], "range": ["#7d2a7f", "#5ccad9", "#b8b8b8", "#3d5cb0", "#000000"]}, "legend": null}}},
  {"data": {"name": "res"}, "transform": [{"filter": "datum.p == 'c'"}], "mark": {"type": "errorbar", "color": "#000", "ticks": {"size": 6, "thickness": 1.5}, "rule": {"strokeWidth": 1.5}}, "encoding": {"x": {"field": "lo", "type": "quantitative", "scale": {"domain": [0.402, 0.598], "nice": false, "zero": false}}, "x2": {"field": "hi"}, "y": {"field": "y", "type": "quantitative", "scale": {"domain": [0, 70], "nice": false, "zero": false}}}},
  {"data": {"name": "fits"}, "transform": [{"filter": "datum.p == 'c'"}], "mark": {"type": "line", "strokeWidth": 2}, "encoding": {"color": {"field": "T", "type": "nominal", "legend": null}, "order": {"field": "x", "type": "quantitative"}}},
  {"data": {"name": "pts"}, "transform": [{"filter": "datum.p == 'c'"}], "mark": {"type": "point", "shape": "triangle-up", "filled": true, "stroke": "#000", "size": 70, "opacity": 1}, "encoding": {"fill": {"field": "T", "type": "nominal", "scale": {"domain": ["2K", "30K", "55K", "80K", "95K"], "range": ["#ffffff", "#3d5cb0", "#b8b8b8", "#5ccad9", "#7d2a7f"]}, "legend": {"orient": "none", "legendX": 43, "legendY": 8, "title": null, "padding": 0, "labelExpr": "'T = ' + datum.label", "labelFont": "Liberation Serif", "labelFontSize": 15, "labelColor": "#000", "labelOffset": 21, "symbolType": "triangle-up", "symbolSize": 80, "symbolStrokeColor": "#000", "symbolStrokeWidth": 1.6, "symbolOpacity": 1, "rowPadding": 6}}, "strokeWidth": {"field": "T", "type": "nominal", "scale": {"domain": ["95K", "80K", "55K", "2K", "30K"], "range": [1.2, 1.2, 1.2, 2.4, 1.2]}, "legend": null}}}
]
},
  {"data": {"values": [{}]}, "mark": {"type": "text", "text": "c", "fontSize": 30, "fontWeight": "bold", "align": "center", "baseline": "alphabetic"}, "encoding": {"x": {"datum": 0.419, "type": "quantitative", "scale": {"domain": [0.402, 0.598], "nice": false, "zero": false}}, "y": {"datum": 63.4, "type": "quantitative", "scale": {"domain": [0, 70], "nice": false, "zero": false}}}},
  {"data": {"values": [{}]}, "mark": {"type": "text", "text": "E", "fontSize": 18.5, "fontStyle": "italic", "align": "left", "baseline": "alphabetic"}, "encoding": {"x": {"datum": 0.4467, "type": "quantitative", "scale": {"domain": [0.402, 0.598], "nice": false, "zero": false}}, "y": {"datum": 3.0, "type": "quantitative", "scale": {"domain": [0, 70], "nice": false, "zero": false}}}},
  {"data": {"values": [{}]}, "mark": {"type": "text", "text": "= 3.5 meV", "fontSize": 18.5, "align": "left", "baseline": "alphabetic"}, "encoding": {"x": {"datum": 0.4598, "type": "quantitative", "scale": {"domain": [0.402, 0.598], "nice": false, "zero": false}}, "y": {"datum": 3.0, "type": "quantitative", "scale": {"domain": [0, 70], "nice": false, "zero": false}}}}
]
},
{
"width": 177, "height": 287,
"layer": [
{
"encoding": {
  "x": {"field": "x", "type": "quantitative", "scale": {"domain": [0.402, 0.594], "nice": false, "zero": false}, "axis": {"values": [0.45, 0.5, 0.55], "offset": -5, "tickSize": 10, "labels": false, "title": null}},
  "y": {"field": "y", "type": "quantitative", "scale": {"domain": [-10, 39.5], "nice": false, "zero": false}, "axis": {"values": [-10, 0, 10, 20, 30], "offset": -5, "tickSize": 10, "labelPadding": 7, "labelFontSize": 14, "title": "χ\"(Q, ω) (arb. units)", "minExtent": 45, "maxExtent": 45, "titlePadding": 0}}
},
"layer": [
  {"data": {"name": "pts"}, "transform": [{"filter": "datum.p == 'd'"}], "mark": {"type": "errorbar", "ticks": {"size": 8, "thickness": 1.5}, "rule": {"strokeWidth": 1.5}}, "encoding": {"yError": {"field": "e"}, "color": {"field": "T", "type": "nominal", "scale": {"domain": ["95K", "80K", "55K", "30K", "2K"], "range": ["#a8306e", "#17a9e1", "#bdb6b6", "#262a8c", "#000000"]}, "legend": null}}},
  {"data": {"name": "fits"}, "transform": [{"filter": "datum.p == 'd' && datum.T == '95K'"}], "mark": {"type": "line", "strokeWidth": 2}, "encoding": {"color": {"field": "T", "type": "nominal", "legend": null}, "order": {"field": "x", "type": "quantitative"}}},
  {"data": {"name": "fits"}, "transform": [{"filter": "datum.p == 'd' && datum.T == '2K'"}], "mark": {"type": "line", "strokeWidth": 2, "strokeDash": [8, 5], "color": "#000"}, "encoding": {"order": {"field": "x", "type": "quantitative"}}},
  {"data": {"name": "pts"}, "transform": [{"filter": "datum.p == 'd'"}], "mark": {"type": "point", "shape": "triangle-up", "filled": true, "stroke": "#000", "strokeWidth": 1.2, "size": 70, "opacity": 1}, "encoding": {"fill": {"field": "T", "type": "nominal", "scale": {"domain": ["2K", "30K", "55K", "80K", "95K"], "range": ["#ffffff", "#262a8c", "#bdb6b6", "#17a9e1", "#a8306e"]}, "legend": null}}}
]
},
  {"data": {"values": [{}]}, "mark": {"type": "text", "text": "d", "fontSize": 30, "fontWeight": "bold", "align": "center", "baseline": "alphabetic"}, "encoding": {"x": {"datum": 0.42, "type": "quantitative", "scale": {"domain": [0.402, 0.594], "nice": false, "zero": false}}, "y": {"datum": 33.7, "type": "quantitative", "scale": {"domain": [-10, 39.5], "nice": false, "zero": false}}}}
]
},
{
"width": 201, "height": 287,
"layer": [
{
"encoding": {
  "x": {"field": "x", "type": "quantitative", "scale": {"domain": [0.401, 0.599], "nice": false, "zero": false}, "axis": {"values": [0.45, 0.5, 0.55], "format": ".2f", "offset": -5, "tickSize": 10, "labelPadding": 12, "labelFontSize": 16, "title": "[H, H, 0] (r. l. u.)", "titlePadding": 11}},
  "y": {"field": "y", "type": "quantitative", "scale": {"domain": [-10, 39.5], "nice": false, "zero": false}, "axis": {"values": [-10, 0, 10, 20, 30], "offset": -5, "tickSize": 10, "labels": false, "title": null}}
},
"layer": [
  {"data": {"name": "pts"}, "transform": [{"filter": "datum.p == 'e'"}], "mark": {"type": "errorbar", "ticks": {"size": 8, "thickness": 1.5}, "rule": {"strokeWidth": 1.5}}, "encoding": {"yError": {"field": "e"}, "color": {"field": "T", "type": "nominal", "scale": {"domain": ["95K", "80K", "55K", "30K", "2K"], "range": ["#a8306e", "#17a9e1", "#bdb6b6", "#262a8c", "#000000"]}, "legend": null}}},
  {"data": {"name": "fits"}, "transform": [{"filter": "datum.p == 'e'"}], "mark": {"type": "line", "strokeWidth": 2, "strokeDash": [8, 5], "color": "#000"}, "encoding": {"order": {"field": "x", "type": "quantitative"}}},
  {"data": {"name": "pts"}, "transform": [{"filter": "datum.p == 'e'"}], "mark": {"type": "point", "shape": "triangle-up", "filled": true, "stroke": "#000", "strokeWidth": 1.2, "size": 70, "opacity": 1}, "encoding": {"fill": {"field": "T", "type": "nominal", "scale": {"domain": ["2K", "30K", "55K", "80K", "95K"], "range": ["#ffffff", "#262a8c", "#bdb6b6", "#17a9e1", "#a8306e"]}, "legend": null}}}
]
},
  {"data": {"values": [{}]}, "mark": {"type": "text", "text": "e", "fontSize": 30, "fontWeight": "bold", "align": "center", "baseline": "alphabetic"}, "encoding": {"x": {"datum": 0.414, "type": "quantitative", "scale": {"domain": [0.401, 0.599], "nice": false, "zero": false}}, "y": {"datum": 34.0, "type": "quantitative", "scale": {"domain": [-10, 39.5], "nice": false, "zero": false}}}}
]
},
{
"width": 200, "height": 287,
"layer": [
{
"encoding": {
  "x": {"field": "x", "type": "quantitative", "scale": {"domain": [0.402, 0.598], "nice": false, "zero": false}, "axis": {"values": [0.45, 0.5, 0.55], "format": ".2f", "offset": -5, "tickSize": 10, "labelPadding": 12, "labelFontSize": 16, "title": null}},
  "y": {"field": "y", "type": "quantitative", "scale": {"domain": [-10, 39.5], "nice": false, "zero": false}, "axis": {"values": [-10, 0, 10, 20, 30], "offset": -5, "tickSize": 10, "labels": false, "title": null}}
},
"layer": [
  {"data": {"name": "pts"}, "transform": [{"filter": "datum.p == 'f'"}], "mark": {"type": "errorbar", "ticks": {"size": 8, "thickness": 1.5}, "rule": {"strokeWidth": 1.5}}, "encoding": {"yError": {"field": "e"}, "color": {"field": "T", "type": "nominal", "scale": {"domain": ["95K", "80K", "55K", "30K", "2K"], "range": ["#a8306e", "#17a9e1", "#bdb6b6", "#262a8c", "#000000"]}, "legend": null}}},
  {"data": {"name": "fits"}, "transform": [{"filter": "datum.p == 'f'"}], "mark": {"type": "line", "strokeWidth": 2, "strokeDash": [8, 5], "color": "#000"}, "encoding": {"order": {"field": "x", "type": "quantitative"}}},
  {"data": {"name": "pts"}, "transform": [{"filter": "datum.p == 'f'"}], "mark": {"type": "point", "shape": "triangle-up", "filled": true, "stroke": "#000", "strokeWidth": 1.2, "size": 70, "opacity": 1}, "encoding": {"fill": {"field": "T", "type": "nominal", "scale": {"domain": ["2K", "30K", "55K", "80K", "95K"], "range": ["#ffffff", "#262a8c", "#bdb6b6", "#17a9e1", "#a8306e"]}, "legend": null}}}
]
},
  {"data": {"values": [{}]}, "mark": {"type": "text", "text": "f", "fontSize": 30, "fontWeight": "bold", "align": "center", "baseline": "alphabetic"}, "encoding": {"x": {"datum": 0.416, "type": "quantitative", "scale": {"domain": [0.402, 0.598], "nice": false, "zero": false}}, "y": {"datum": 33.7, "type": "quantitative", "scale": {"domain": [-10, 39.5], "nice": false, "zero": false}}}}
]
}
]
}
